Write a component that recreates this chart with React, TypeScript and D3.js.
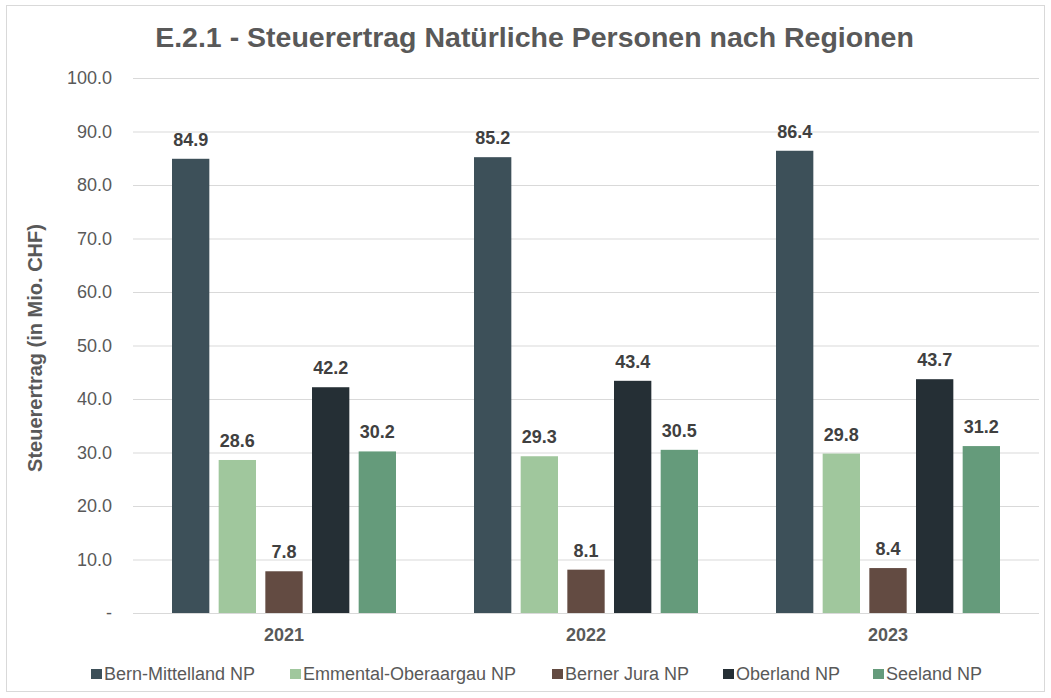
import React, { useRef, useEffect } from 'react';
import * as d3 from 'd3';

const years = ['2021', '2022', '2023'];
const regions = ['Bern-Mittelland NP', 'Emmental-Oberaargau NP', 'Berner Jura NP', 'Oberland NP', 'Seeland NP'];
const bernMittelland = [84.9, 85.2, 86.4];
const emmentalOberaargau = [28.6, 29.3, 29.8];
const bernerJura = [7.8, 8.1, 8.4];
const oberland = [42.2, 43.4, 43.7];
const seeland = [30.2, 30.5, 31.2];
const colors = ['#3d5059', '#a0c79d', '#634b42', '#252f35', '#659b7b'];
const yTicks = [0, 10, 20, 30, 40, 50, 60, 70, 80, 90, 100];

const App = () => {
  const chartRef = useRef<SVGSVGElement>(null);

  useEffect(() => {
    document.body.style.margin = '0';
    const font = "Arial, 'Liberation Sans', sans-serif";
    const seriesValues = [bernMittelland, emmentalOberaargau, bernerJura, oberland, seeland];

    const svg = d3.select(chartRef.current);
    svg.selectAll('*').remove();

    // outer frame
    svg.append('rect')
      .attr('x', 6.5).attr('y', 5.5)
      .attr('width', 1038).attr('height', 686)
      .attr('fill', '#fff').attr('stroke', '#d9d9d9');

    const margin = { top: 78, left: 133, right: 1039, bottom: 613 };

    const x = d3.scaleBand().domain(years).range([margin.left, margin.right]).paddingInner(0).paddingOuter(0);
    const inner = d3.scaleBand().domain(regions).range([39, x.bandwidth() - 39]).paddingInner(0.2);
    const y = d3.scaleLinear().domain([0, 100]).range([margin.bottom, margin.top]);

    // gridlines
    svg.append('g')
      .selectAll('line')
      .data(yTicks)
      .join('line')
      .attr('x1', margin.left).attr('x2', margin.right)
      .attr('y1', d => y(d) + 0.5).attr('y2', d => y(d) + 0.5)
      .attr('stroke', '#d9d9d9').attr('stroke-width', 1);

    // y labels
    svg.append('g')
      .selectAll('text')
      .data(yTicks)
      .join('text')
      .attr('x', 112).attr('y', d => y(d) + 6)
      .attr('text-anchor', 'end')
      .attr('font-family', font).attr('font-size', 18).attr('fill', '#595959')
      .text(d => (d === 0 ? '-' : d.toFixed(1)));

    // bars
    regions.forEach((r, i) => {
      const g = svg.append('g');
      g.selectAll('rect')
        .data(seriesValues[i])
        .join('rect')
        .attr('x', (d, j) => (x(years[j]) as number) + (inner(r) as number))
        .attr('y', d => y(d))
        .attr('width', inner.bandwidth())
        .attr('height', d => y(0) - y(d))
        .attr('fill', colors[i]);
      g.selectAll('text')
        .data(seriesValues[i])
        .join('text')
        .attr('x', (d, j) => (x(years[j]) as number) + (inner(r) as number) + inner.bandwidth() / 2)
        .attr('y', d => y(d) - 13)
        .attr('text-anchor', 'middle')
        .attr('font-family', font).attr('font-size', 18).attr('font-weight', 'bold')
        .attr('fill', '#404040')
        .text(d => d.toFixed(1));
    });

    // x labels
    svg.append('g')
      .selectAll('text')
      .data(years)
      .join('text')
      .attr('x', d => (x(d) as number) + x.bandwidth() / 2)
      .attr('y', 641)
      .attr('text-anchor', 'middle')
      .attr('font-family', font).attr('font-size', 18).attr('font-weight', 'bold')
      .attr('fill', '#595959')
      .text(d => d);

    // title
    svg.append('text')
      .attr('x', 534.5).attr('y', 47)
      .attr('text-anchor', 'middle')
      .attr('font-family', font).attr('font-size', 28.5).attr('font-weight', 'bold')
      .attr('fill', '#595959')
      .text('E.2.1 - Steuerertrag Natürliche Personen nach Regionen');

    // y axis title
    svg.append('text')
      .attr('transform', 'translate(42,348) rotate(-90)')
      .attr('text-anchor', 'middle')
      .attr('font-family', font).attr('font-size', 20).attr('font-weight', 'bold')
      .attr('fill', '#595959')
      .text('Steuerertrag (in Mio. CHF)');

    // legend
    const legendX = [91, 290, 552, 723, 873];
    const legend = svg.append('g');
    regions.forEach((r, i) => {
      legend.append('rect')
        .attr('x', legendX[i]).attr('y', 669)
        .attr('width', 11).attr('height', 10)
        .attr('fill', colors[i]);
      legend.append('text')
        .attr('x', legendX[i] + 13).attr('y', 680)
        .attr('font-family', font).attr('font-size', 18)
        .attr('fill', '#595959')
        .text(r);
    });
  }, []);

  return <svg ref={chartRef} width={1051} height={698} style={{ display: 'block' }}></svg>;
};

export default App;
